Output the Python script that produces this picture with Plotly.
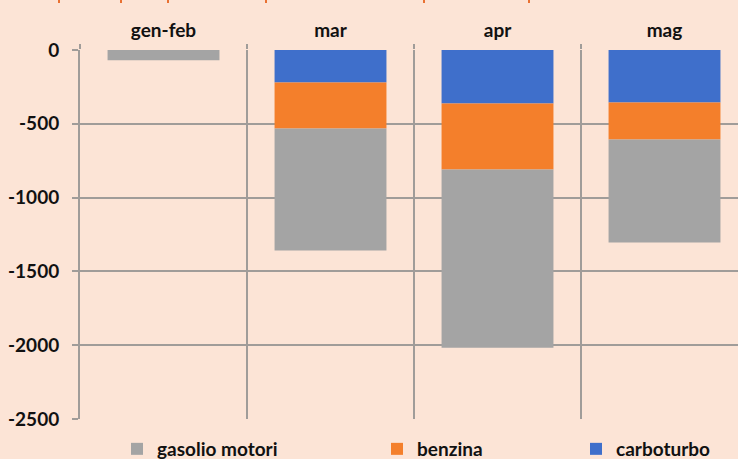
import plotly.graph_objects as go

categories = ["gen-feb", "mar", "apr", "mag"]
gasolio_motori = [-70, -827, -1208, -697]
benzina = [0, -312, -447, -252]
carboturbo = [0, -220, -363, -355]

y_ticks = [0, -500, -1000, -1500, -2000, -2500]

BG = "#FCE4D6"
GRID = "#A09C99"
FONT = "Lato, Liberation Sans, sans-serif"
FS = 19

W, H = 738, 459
L, T, B = 80, 50, 40
plot_w = W - L
plot_h = H - T - B
cat_px = 167

fig = go.Figure()
series = [
    ("carboturbo", carboturbo, "#3F6FCB", "legend3"),
    ("benzina", benzina, "#F47F2B", "legend2"),
    ("gasolio motori", gasolio_motori, "#A4A4A4", "legend"),
]
for name, vals, col, lg in series:
    fig.add_trace(go.Bar(
        x=categories, y=vals, name=name, width=0.67,
        marker=dict(color=col, line=dict(width=0)),
        legend=lg,
    ))


def px_to_paper(px):
    return (px - L) / plot_w


leg_common = dict(orientation="h", yanchor="middle", y=-(449 - (H - B)) / plot_h,
                  xanchor="left", bgcolor="rgba(0,0,0,0)",
                  font=dict(family=FONT, size=FS, color="#111111", weight="bold"),
                  itemwidth=30, itemsizing="constant")

fig.update_layout(
    width=W, height=H,
    margin=dict(l=L, r=0, t=T, b=B, pad=0, autoexpand=False),
    paper_bgcolor=BG, plot_bgcolor=BG,
    barmode="relative",
    font=dict(family=FONT, size=FS, color="#111111"),
    showlegend=True,
    legend=dict(leg_common, x=px_to_paper(117)),
    legend2=dict(leg_common, x=px_to_paper(377)),
    legend3=dict(leg_common, x=px_to_paper(576)),
    xaxis=dict(
        side="top", type="category", categoryorder="array", categoryarray=categories,
        range=[-0.5, -0.5 + plot_w / cat_px],
        tickson="boundaries", ticks="outside", ticklen=5, tickcolor=GRID, tickwidth=2,
        showgrid=True, gridcolor=GRID, gridwidth=2,
        showline=False, zeroline=False, automargin=False,
        tickfont=dict(family=FONT, size=FS, color="#111111", weight="bold"),
        ticklabelstandoff=8,
    ),
    yaxis=dict(
        range=[-2500, 0], tickvals=y_ticks, ticktext=[str(v) for v in y_ticks],
        showgrid=True, gridcolor=GRID, gridwidth=2,
        showline=True, linecolor=GRID, linewidth=2,
        ticks="outside", ticklen=6, tickcolor=GRID, tickwidth=2,
        zeroline=False, automargin=False,
        tickfont=dict(family=FONT, size=FS, color="#111111", weight="bold"),
        ticklabelstandoff=9,
    ),
)

# small orange marks at the very top edge (remnants of content above)
for px in [59, 121, 168, 266, 424, 529]:
    fig.add_shape(type="line", xref="paper", yref="paper",
                  xsizemode="pixel", ysizemode="pixel",
                  xanchor=px_to_paper(px), yanchor=1,
                  x0=0, x1=0, y0=T, y1=T - 3,
                  line=dict(color="#E97132", width=2))

fig.write_html(
    "out.html",
    config={"displayModeBar": False},
    post_script="document.body.style.margin='0';document.body.style.overflow='hidden';"
                "document.body.style.background='" + BG + "';",
)
